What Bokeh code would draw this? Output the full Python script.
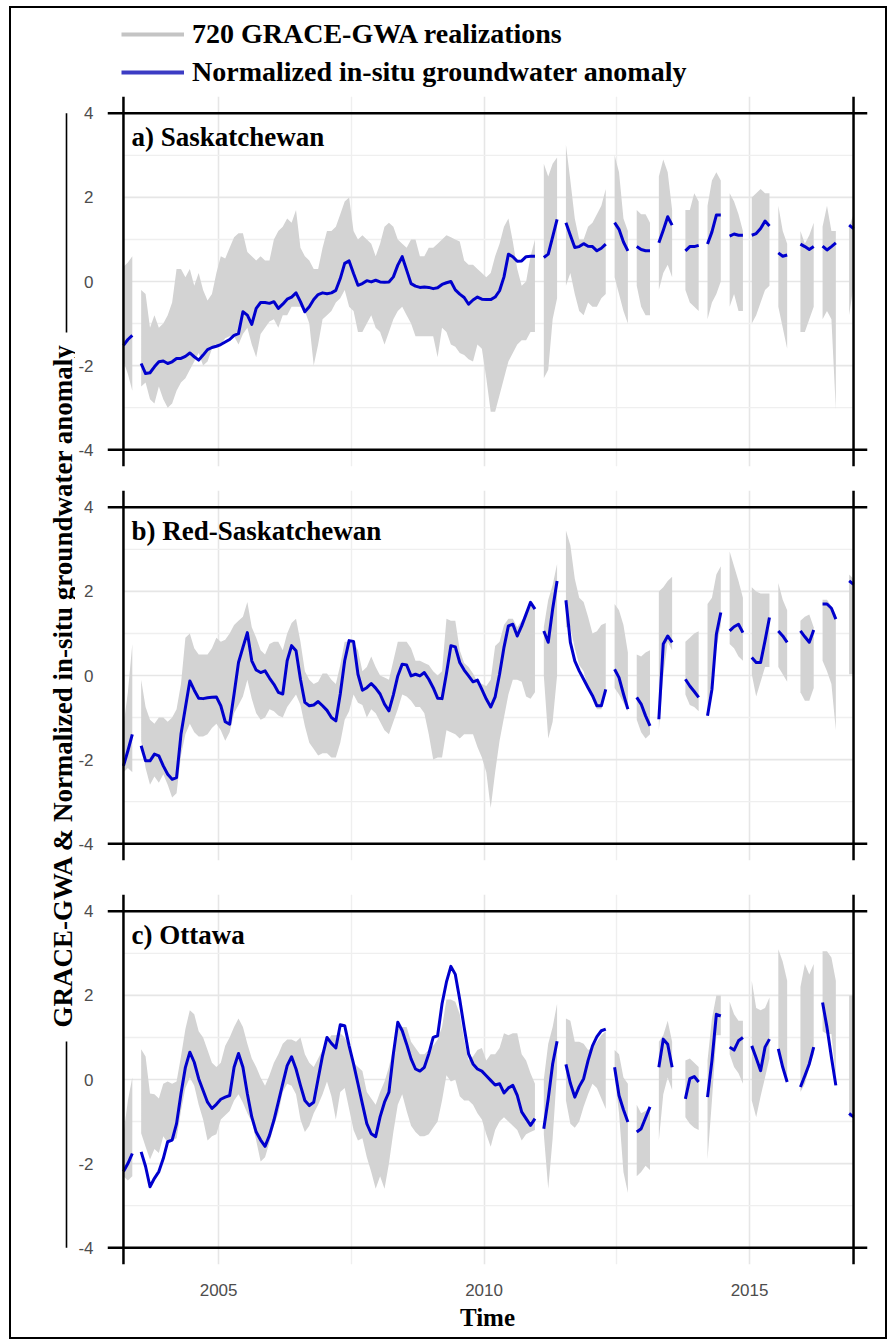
import math

import numpy as np
from bokeh.core.properties import value
from bokeh.embed import file_html
from bokeh.layouts import column, row
from bokeh.models import FixedTicker, Grid, Label, Legend, LegendItem, Range1d, Span
from bokeh.plotting import figure
from bokeh.resources import INLINE

nan = float("nan")

# ---------------------------------------------------------------- data
# Monthly series, March 2003 .. December 2016 (166 months); nan = month without GRACE data.
# Rows: 2003 (Mar-Dec), then one row per calendar year 2004..2016.
FIRST_YEAR, FIRST_MONTH, N_MONTHS = 2003, 3, 166

sask_obs = [
    -1.52, -1.38, -1.28, nan, -1.95, -2.19, -2.17, -2.03, -1.91, -1.89,
    -1.95, -1.91, -1.83, -1.83, -1.78, -1.70, -1.79, -1.87, -1.75, -1.62, -1.57, -1.54,
    -1.50, -1.44, -1.38, -1.28, -1.24, -0.72, -0.80, -1.02, -0.64, -0.50, -0.50, -0.52,
    -0.48, -0.64, -0.54, -0.42, -0.37, -0.27, -0.48, -0.72, -0.60, -0.43, -0.31, -0.27,
    -0.29, -0.27, -0.21, 0.07, 0.43, 0.49, 0.19, -0.09, -0.05, 0.02, -0.01, 0.03,
    -0.01, -0.02, -0.01, 0.11, 0.39, 0.59, 0.27, -0.05, -0.11, -0.14, -0.13, -0.14,
    -0.17, -0.15, -0.07, -0.03, 0.00, -0.20, -0.30, -0.38, -0.54, -0.44, -0.37, -0.42,
    -0.43, -0.43, -0.37, -0.22, 0.11, 0.65, 0.59, 0.48, 0.49, 0.59, 0.60, 0.60,
    nan, 0.57, 0.65, 1.06, 1.48, nan, 1.40, 1.10, 0.81, 0.83, 0.90, 0.84,
    0.83, 0.73, 0.79, 0.89, nan, 1.40, 1.24, 0.94, 0.73, nan, 0.83, 0.76,
    0.73, 0.73, nan, 0.92, 1.22, 1.54, 1.34, nan, nan, 0.73, 0.83, 0.83,
    0.86, nan, 0.89, 1.18, 1.58, 1.58, nan, 1.08, 1.13, 1.10, 1.10, nan,
    1.10, 1.14, 1.26, 1.44, 1.32, nan, 0.68, 0.60, 0.63, nan, nan, 0.89,
    0.83, 0.76, 0.83, nan, 0.84, 0.75, 0.83, 0.92, nan, nan, 1.34, 1.26,
]
sask_hi = [
    0.35, 0.45, 0.60, nan, -0.20, -0.30, -1.10, -0.80, -1.10, -1.00,
    -0.80, -0.50, 0.30, 0.30, 0.10, 0.30, -0.10, 0.20, -0.20, -0.45, -0.30, 0.20,
    0.60, 0.55, 0.80, 1.05, 1.15, 1.15, 0.70, 0.60, 0.50, 0.60, 0.50, 0.50,
    1.00, 1.20, 1.30, 1.50, 1.40, 1.70, 0.80, 0.60, 0.50, 0.30, 0.30, 0.80,
    1.20, 1.20, 1.30, 1.60, 1.90, 2.00, 1.20, 1.00, 1.10, 1.00, 0.90, 0.60,
    0.90, 1.30, 1.40, 1.30, 1.00, 0.90, 0.80, 1.00, 1.00, 0.60, 0.60, 0.80,
    0.80, 0.90, 1.00, 1.10, 1.05, 1.00, 0.95, 0.50, 0.40, 0.40, 0.30, 0.20,
    0.10, 0.20, 0.60, 0.90, 1.30, 1.50, 0.95, 0.30, -0.10, 0.00, 0.60, 1.00,
    nan, 2.80, 2.50, 2.80, 2.95, nan, 3.25, 2.40, 1.50, 1.00, 1.00, 1.30,
    1.40, 1.60, 1.80, 2.20, nan, 3.00, 2.60, 1.50, 1.20, nan, 1.70, 1.60,
    1.60, 1.40, nan, 2.50, 2.90, 2.60, 1.70, nan, nan, 1.70, 1.70, 2.10,
    1.90, nan, 1.80, 2.40, 2.60, 2.40, nan, 2.10, 1.90, 1.60, 1.20, nan,
    2.00, 2.10, 2.20, 2.10, 2.10, nan, 1.80, 1.20, 0.90, nan, nan, 1.20,
    0.90, 1.10, 1.40, nan, 1.30, 1.80, 1.20, 1.20, nan, nan, 1.30, 1.60,
]
sask_lo = [
    -1.90, -2.20, -2.60, nan, -2.50, -2.40, -2.80, -2.90, -2.50, -2.80,
    -3.00, -2.90, -2.60, -2.40, -2.30, -2.10, -1.90, -1.70, -2.00, -1.90, -1.60, -1.50,
    -1.50, -1.35, -1.30, -1.30, -1.50, -1.25, -1.10, -1.50, -1.80, -1.25, -1.10, -0.95,
    -0.90, -1.10, -0.80, -0.80, -0.60, -0.60, -0.60, -0.70, -1.00, -2.00, -1.50, -0.90,
    -0.80, -0.70, -0.50, -0.40, -0.20, -0.60, -0.70, -1.20, -1.20, -1.00, -0.80, -1.10,
    -1.20, -1.50, -1.20, -0.90, -0.70, -0.60, -0.80, -1.00, -1.30, -1.30, -1.30, -1.30,
    -1.30, -1.80, -1.10, -1.20, -1.50, -1.55, -1.70, -1.75, -1.85, -1.90, -1.50, -1.60,
    -2.30, -3.10, -3.10, -2.70, -2.30, -1.90, -1.70, -1.50, -1.40, -1.40, -1.20, -1.20,
    nan, -2.30, -2.10, -0.90, -0.40, nan, -0.10, 0.20, -0.30, -0.70, -0.80, -0.50,
    -0.60, -0.60, -0.40, -0.30, nan, 0.10, -0.30, -0.70, -1.00, nan, -0.10, -0.60,
    -0.80, -0.80, nan, -0.20, 0.20, 0.40, 0.10, nan, nan, -0.20, -0.50, -0.60,
    -0.70, nan, -0.90, -0.50, -0.30, 0.00, nan, -0.60, -0.30, -0.70, -0.70, nan,
    -1.00, -0.80, -0.50, -0.20, -0.10, nan, -0.60, -1.10, -1.60, nan, nan, -1.20,
    -1.20, -0.90, -0.60, nan, -0.90, -0.70, -0.90, -3.05, nan, nan, -0.80, -0.10,
]

red_obs = [
    -2.15, -1.79, -1.40, nan, -1.67, -2.03, -2.03, -1.87, -1.91, -2.15,
    -2.35, -2.47, -2.43, -1.40, -0.76, -0.13, -0.35, -0.54, -0.55, -0.53, -0.52, -0.51,
    -0.72, -1.10, -1.16, -0.44, 0.31, 0.67, 1.02, 0.35, 0.13, 0.07, 0.11, -0.06,
    -0.21, -0.40, -0.44, 0.35, 0.71, 0.59, -0.09, -0.64, -0.72, -0.70, -0.62, -0.72,
    -0.83, -1.00, -1.08, -0.44, 0.35, 0.83, 0.81, 0.03, -0.35, -0.29, -0.19, -0.30,
    -0.44, -0.68, -0.84, -0.46, -0.01, 0.27, 0.25, -0.01, 0.03, -0.01, 0.07, -0.09,
    -0.29, -0.54, -0.55, 0.05, 0.71, 0.68, 0.31, 0.13, -0.01, -0.15, -0.11, -0.33,
    -0.56, -0.75, -0.51, 0.03, 0.67, 1.18, 1.22, 0.94, 1.18, 1.46, 1.74, 1.58,
    nan, 1.06, 0.79, 1.58, 2.25, nan, 1.79, 0.79, 0.35, 0.11, -0.09, -0.29,
    -0.48, -0.72, -0.72, -0.33, nan, 0.15, -0.05, -0.44, -0.80, nan, -0.52, -0.68,
    -0.96, -1.20, nan, -1.04, 0.75, 0.94, 0.79, nan, nan, -0.09, -0.25, -0.38,
    -0.52, nan, -0.96, -0.33, 0.98, 1.50, nan, 1.06, 1.16, 1.22, 1.02, nan,
    0.43, 0.31, 0.31, 0.83, 1.38, nan, 1.06, 0.94, 0.79, nan, nan, 1.06,
    0.92, 0.79, 1.08, nan, 1.70, 1.70, 1.60, 1.34, nan, nan, 2.25, 2.17,
]
red_hi = [
    -1.20, -0.40, 0.75, nan, -0.10, -0.75, -1.05, -1.15, -1.00, -1.00,
    -1.10, -1.00, -0.80, -0.20, 0.90, 1.00, 0.65, 0.50, 0.50, 0.50, 0.65, 0.90,
    0.80, 0.85, 1.00, 1.20, 1.30, 1.40, 1.75, 1.15, 0.90, 0.60, 0.50, 0.75,
    0.80, 0.80, 0.60, 1.00, 1.25, 1.35, 0.80, 0.10, -0.10, -0.20, -0.15, 0.05,
    0.05, -0.10, -0.20, 0.25, 0.80, 0.80, 0.80, 0.60, 0.10, 0.20, 0.45, 0.20,
    0.00, -0.05, -0.10, 0.35, 0.80, 0.80, 0.80, 0.65, 0.35, 0.35, 0.30, 0.25,
    0.10, 0.00, 0.10, 1.35, 1.30, 1.30, 0.60, 0.30, 0.20, 0.05, -0.15, -0.20,
    -0.25, -0.10, 0.70, 0.80, 1.20, 1.35, 1.35, 1.15, 1.30, 1.45, 1.70, 1.55,
    nan, 1.15, 1.80, 2.15, 2.65, nan, 3.45, 3.10, 2.30, 1.85, 1.75, 1.40,
    1.00, 1.05, 1.20, 1.25, nan, 1.70, 1.55, 1.20, 0.55, nan, 0.50, 0.45,
    0.55, 0.60, nan, 2.00, 2.10, 2.25, 2.35, nan, nan, 0.80, 0.90, 1.00,
    1.05, nan, 1.70, 1.85, 2.40, 2.60, nan, 2.95, 2.60, 2.25, 1.85, nan,
    2.10, 2.00, 1.95, 1.95, 1.95, nan, 2.20, 1.80, 1.55, nan, nan, 1.30,
    1.40, 1.45, 1.15, nan, 1.80, 1.80, 1.65, 1.45, nan, nan, 2.40, 2.30,
]
red_lo = [
    -2.30, -2.20, -2.30, nan, -1.55, -2.20, -2.60, -2.40, -2.55, -2.35,
    -2.60, -2.90, -2.80, -1.90, -1.40, -1.15, -1.35, -1.45, -1.45, -1.40, -1.25, -1.15,
    -1.30, -1.55, -1.35, -0.90, -0.70, -0.50, -0.10, -0.55, -0.90, -1.05, -1.00, -0.80,
    -0.85, -0.95, -1.00, -0.75, -0.60, -0.45, -0.70, -1.20, -1.60, -1.75, -1.90, -1.85,
    -1.85, -1.95, -1.95, -1.60, -1.05, -0.85, -0.45, -0.65, -0.70, -1.00, -0.80, -0.90,
    -1.10, -1.30, -1.40, -1.10, -0.80, -0.45, -0.50, -0.60, -0.75, -0.75, -0.90, -1.40,
    -2.00, -1.95, -1.95, -1.30, -1.35, -1.40, -1.50, -1.40, -1.40, -1.40, -1.70, -1.95,
    -2.30, -3.15, -2.30, -1.55, -1.00, -0.45, -0.10, -0.10, -0.15, -0.50, -0.55, -0.40,
    nan, 0.00, -1.50, -1.10, 0.00, nan, 1.15, 1.15, 0.65, 0.25, 0.10, -0.30,
    -0.45, -0.80, -0.80, -0.40, nan, -0.30, -0.45, -0.65, -0.85, nan, -1.05, -1.35,
    -1.50, -1.40, nan, -1.30, 0.00, 0.80, 0.60, nan, nan, -0.45, -0.70, -0.75,
    -0.85, nan, -1.00, -0.10, 0.65, 1.20, nan, 0.75, 0.65, 0.45, 0.35, nan,
    0.03, -0.50, -0.15, 0.20, 0.20, nan, 0.20, 0.03, -0.15, nan, nan, -0.40,
    -0.60, -0.60, -0.30, nan, 0.35, 0.10, -0.20, -1.30, nan, nan, 0.03, 0.03,
]

ott_obs = [
    -2.19, -2.00, -1.76, nan, -1.72, -2.07, -2.55, -2.35, -2.19, -1.88,
    -1.48, -1.44, -1.05, -0.34, 0.29, 0.65, 0.41, 0.02, -0.26, -0.54, -0.69, -0.59,
    -0.47, -0.42, -0.38, 0.29, 0.62, 0.29, -0.34, -0.89, -1.25, -1.44, -1.59, -1.33,
    -0.97, -0.54, -0.10, 0.33, 0.54, 0.25, -0.14, -0.50, -0.62, -0.54, 0.02, 0.57,
    1.00, 0.86, 0.75, 1.30, 1.28, 0.80, 0.37, -0.10, -0.58, -1.05, -1.29, -1.36,
    -0.89, -0.54, -0.30, 0.61, 1.36, 1.16, 0.84, 0.49, 0.25, 0.20, 0.29, 0.61,
    1.00, 1.04, 1.80, 2.32, 2.69, 2.50, 1.90, 1.24, 0.61, 0.37, 0.25, 0.20,
    0.09, -0.02, -0.13, -0.10, -0.32, -0.20, -0.14, -0.38, -0.77, -0.93, -1.09, -0.93,
    nan, -1.17, -0.46, 0.37, 0.91, nan, 0.36, -0.09, -0.42, -0.17, 0.02, 0.45,
    0.80, 1.02, 1.16, 1.20, nan, 0.29, -0.38, -0.72, -1.01, nan, -1.25, -1.17,
    -0.91, -0.65, nan, 0.29, 0.96, 0.84, 0.29, nan, nan, -0.46, 0.02, 0.07,
    -0.06, nan, -0.42, 0.45, 1.55, 1.51, nan, 0.77, 0.70, 0.92, 1.00, nan,
    0.80, 0.51, 0.21, 0.77, 0.96, nan, 0.73, 0.29, -0.06, nan, nan, -0.18,
    0.09, 0.37, 0.77, nan, 1.83, 1.24, 0.53, -0.14, nan, nan, -0.81, -0.89,
]
ott_hi = [
    -1.30, -0.50, 0.05, nan, 0.72, 0.55, -0.33, -0.35, -0.45, -0.10,
    -0.05, -0.10, -0.05, 0.55, 1.20, 1.65, 1.55, 1.15, 1.00, 0.70, 0.40, 0.30,
    0.40, 0.80, 1.00, 1.25, 1.45, 1.25, 0.85, 0.50, 0.30, 0.05, -0.15, 0.10,
    0.40, 0.60, 0.85, 0.95, 0.95, 0.90, 1.00, 0.60, 0.40, 0.30, 0.50, 0.70,
    0.90, 1.05, 1.05, 1.10, 1.00, 0.80, 0.40, 0.30, 0.20, -0.30, -0.45, -0.60,
    -0.30, -0.05, 0.30, 0.75, 1.20, 1.25, 1.25, 0.90, 0.75, 0.60, 0.60, 0.70,
    0.80, 0.95, 1.25, 1.90, 1.90, 1.85, 1.55, 0.95, 0.45, 0.55, 0.70, 0.75,
    0.45, 0.60, 0.60, 0.75, 1.10, 1.05, 1.10, 1.10, 0.60, 0.45, 0.15, -0.10,
    nan, 0.00, 0.85, 1.25, 1.80, nan, 1.45, 1.40, 0.90, 0.90, 0.85, 0.70,
    0.75, 0.90, 1.05, 1.15, nan, 0.70, 0.60, 0.05, -0.10, nan, -0.60, -0.80,
    -0.75, -0.65, nan, 0.90, 1.05, 1.40, 0.90, nan, nan, 0.45, 0.50, 0.40,
    0.30, nan, 0.45, 1.45, 2.00, 2.00, nan, 1.85, 1.55, 1.40, 1.40, nan,
    2.35, 1.70, 1.65, 1.70, 1.95, nan, 3.10, 2.80, 2.35, nan, nan, 2.20,
    2.75, 2.50, 2.75, nan, 3.05, 3.05, 2.90, 2.35, nan, nan, 2.00, 2.00,
]
ott_lo = [
    -2.30, -2.40, -2.30, nan, -1.28, -1.60, -1.90, -1.65, -1.75, -1.35,
    -1.50, -1.45, -1.40, -0.75, -0.20, 0.05, -0.15, -0.60, -0.95, -1.45, -1.35, -1.30,
    -0.95, -0.85, -0.75, -0.50, -0.35, -0.55, -0.80, -1.00, -1.45, -1.95, -1.85, -1.50,
    -1.10, -0.80, -0.30, -0.10, -0.15, -0.35, -0.95, -1.25, -1.10, -0.80, -0.60, -0.35,
    -0.05, -0.40, -0.95, -0.30, -0.20, -0.70, -1.20, -1.45, -1.40, -1.85, -2.20, -2.60,
    -2.30, -2.60, -2.00, -1.25, -0.60, -0.35, -0.75, -1.10, -1.25, -1.35, -1.35, -1.30,
    -1.15, -1.00, -0.50, 0.10, -0.05, 0.00, -0.40, -0.50, -0.50, -0.60, -0.80, -0.95,
    -1.30, -1.60, -1.20, -1.00, -0.90, -1.00, -1.10, -1.20, -1.45, -1.30, -1.25, -1.20,
    nan, -1.30, -2.60, -1.40, 0.20, nan, -0.50, -1.05, -1.15, -1.00, -0.65, -0.35,
    -0.10, -0.20, -0.45, -0.70, nan, 0.10, -0.80, -2.20, -2.70, nan, -2.30, -2.20,
    -2.05, -2.15, nan, -1.45, -0.35, 0.05, -0.25, nan, nan, -0.90, -1.05, -1.15,
    -1.20, nan, -1.90, -0.50, 1.05, 1.05, nan, 0.60, 0.30, 0.15, -0.10, nan,
    -0.50, -0.90, -0.40, 0.05, 0.50, nan, 0.75, 0.35, -0.02, nan, nan, -0.30,
    -0.10, 0.30, 0.60, nan, 1.15, 1.08, 1.08, 0.05, nan, nan, -0.90, -0.90,
]

panels = [
    ("a) Saskatchewan", sask_obs, sask_lo, sask_hi),
    ("b) Red-Saskatchewan", red_obs, red_lo, red_hi),
    ("c) Ottawa", ott_obs, ott_lo, ott_hi),
]
for _, *series in panels:
    for s in series:
        assert len(s) == N_MONTHS

y_ticks = [-4, -2, 0, 2, 4]
y_grid_major = [-2, 0, 2]
y_grid_minor = [-3, -1, 1, 3]
x_ticks = [2005, 2010, 2015]
x_grid_minor = [2007.5, 2012.5]

legend_labels = ["720 GRACE-GWA realizations", "Normalized in-situ groundwater anomaly"]
y_title = "GRACE-GWA & Normalized in-situ groundwater anomaly"
x_title = "Time"

# ---------------------------------------------------------------- layout / style
# mid-month decimal time of every month in the record
t = np.array([FIRST_YEAR + (FIRST_MONTH - 1 + k + 0.5) / 12.0 for k in range(N_MONTHS)])
T0, T1 = float(t[0]), float(t[-1])

SERIF = "Liberation Serif"
SANS = "Liberation Sans"
BAND = "#D3D3D3"
BLUE = "#0000CD"
GRID_MAJOR = "#E6E6E6"
GRID_MINOR = "#EFEFEF"
TICK_GREY = "#4D4D4D"
TICK_SIZE = "17px"

LEFT_W = 64            # y-title strip
PANEL_W = 810          # panel canvas width
BORDER_L, BORDER_R = 30, 18
PAD_L, PAD_R = 16, 14  # frame padding outside the first/last month (px)
FRAME_H = 370
Y_LIM = 4.4
LEGEND_H = 88
GAPS = [(0, 12), (12, 12), (22, 73)]  # (top, bottom) border of each panel

frame_w = PANEL_W - BORDER_L - BORDER_R
px_per_year = (frame_w - PAD_L - PAD_R) / (T1 - T0)
x_start = T0 - PAD_L / px_per_year
x_end = T1 + PAD_R / px_per_year
px_per_unit = FRAME_H / (2 * Y_LIM)


def runs(values):
    """Index ranges of consecutive non-missing months."""
    ok = ~np.isnan(np.asarray(values, dtype=float))
    out, start = [], None
    for i, flag in enumerate(ok):
        if flag and start is None:
            start = i
        if not flag and start is not None:
            out.append((start, i))
            start = None
    if start is not None:
        out.append((start, len(ok)))
    return out


def make_panel(title, obs, lo, hi, top, bottom, with_x_axis):
    p = figure(
        width=PANEL_W, height=FRAME_H + top + bottom,
        x_range=Range1d(x_start, x_end), y_range=Range1d(-Y_LIM, Y_LIM),
        x_axis_location="below" if with_x_axis else None,
        output_backend="svg", toolbar_location=None, title=None,
        min_border_left=BORDER_L, min_border_right=BORDER_R,
        min_border_top=top, min_border_bottom=bottom,
    )
    p.outline_line_color = None
    p.xgrid.visible = False
    p.ygrid.visible = False

    # vertical grid spans the whole panel height
    p.add_layout(Grid(dimension=0, ticker=FixedTicker(ticks=x_ticks, minor_ticks=x_grid_minor),
                      grid_line_color=GRID_MAJOR, grid_line_width=1.6,
                      minor_grid_line_color=GRID_MINOR, minor_grid_line_width=1.4))
    # horizontal grid only between the first and last month
    p.segment(x0=[T0] * len(y_grid_major), x1=[T1] * len(y_grid_major), y0=y_grid_major, y1=y_grid_major,
              line_color=GRID_MAJOR, line_width=1.6)
    p.segment(x0=[T0] * len(y_grid_minor), x1=[T1] * len(y_grid_minor), y0=y_grid_minor, y1=y_grid_minor,
              line_color=GRID_MINOR, line_width=1.4)

    lo_a = np.asarray(lo, dtype=float)
    hi_a = np.asarray(hi, dtype=float)
    for a, b in runs(hi_a):
        p.varea(x=t[a:b], y1=lo_a[a:b], y2=hi_a[a:b], fill_color=BAND)
    p.line(x=t, y=np.asarray(obs, dtype=float), line_color=BLUE, line_width=3, line_join="round")

    for yv in (-4, 4):
        p.add_layout(Span(location=yv, dimension="width", line_color="black", line_width=2.5))
    for xv in (T0, T1):
        p.add_layout(Span(location=xv, dimension="height", line_color="black", line_width=2.5))

    p.add_layout(Label(x=T0, y=4, x_offset=8, y_offset=-9, text=title,
                       text_font=SERIF, text_font_style="bold", text_font_size="27px",
                       text_color="black", text_align="left", text_baseline="top"))

    ax = p.yaxis[0]
    ax.ticker = FixedTicker(ticks=y_ticks)
    ax.major_label_overrides = {v: str(v) for v in y_ticks}
    ax.axis_line_color = None
    ax.major_tick_line_color = None
    ax.minor_tick_line_color = None
    ax.major_label_standoff = 8
    ax.major_label_text_font = SANS
    ax.major_label_text_font_size = TICK_SIZE
    ax.major_label_text_color = TICK_GREY

    if with_x_axis:
        xa = p.xaxis[0]
        xa.ticker = FixedTicker(ticks=x_ticks)
        xa.axis_line_color = None
        xa.major_tick_line_color = None
        xa.minor_tick_line_color = None
        xa.major_label_standoff = 13
        xa.major_label_text_font = SANS
        xa.major_label_text_font_size = TICK_SIZE
        xa.major_label_text_color = TICK_GREY
        xa.axis_label = x_title
        xa.axis_label_standoff = 5
        xa.axis_label_text_font = SERIF
        xa.axis_label_text_font_style = "bold"
        xa.axis_label_text_font_size = "25px"
        xa.axis_label_text_color = "black"
    return p


panel_figs = []
for k, (title, obs, lo, hi) in enumerate(panels):
    top, bottom = GAPS[k]
    panel_figs.append(make_panel(title, obs, lo, hi, top, bottom, k == len(panels) - 1))

# legend strip (the keyed renderers hold no drawable point)
leg_fig = figure(width=PANEL_W, height=LEGEND_H, x_range=Range1d(0, 1), y_range=Range1d(0, 1),
                 x_axis_location=None, y_axis_location=None, min_border=0,
                 output_backend="svg", toolbar_location=None, title=None)
leg_fig.outline_line_color = None
leg_fig.xgrid.visible = False
leg_fig.ygrid.visible = False
r_band = leg_fig.line(x=[nan], y=[nan], line_color="#C4C4C4", line_width=4)
r_obs = leg_fig.line(x=[nan], y=[nan], line_color="#3C3CC4", line_width=4)
legend = Legend(
    items=[LegendItem(label=legend_labels[0], renderers=[r_band]),
           LegendItem(label=legend_labels[1], renderers=[r_obs])],
    location=(14, 7), orientation="vertical",
    glyph_width=63, glyph_height=34, label_height=34, label_standoff=8,
    spacing=4, padding=0, margin=0, border_line_color=None, background_fill_alpha=0,
    label_text_font=SERIF, label_text_font_style="bold", label_text_font_size="28px",
    label_text_color="black",
)
leg_fig.add_layout(legend)

# shared y-axis title strip with its bracket line
panel_heights = [FRAME_H + a + b for a, b in GAPS]
total_h = LEGEND_H + sum(panel_heights)
bracket_top = LEGEND_H + GAPS[0][0] + (Y_LIM - 4) * px_per_unit
bracket_bot = LEGEND_H + sum(panel_heights[:2]) + GAPS[2][0] + (Y_LIM + 4) * px_per_unit
title_cy = 677
title_half = 353

ytl = figure(width=LEFT_W, height=total_h, x_range=Range1d(0, LEFT_W), y_range=Range1d(total_h, 0),
             x_axis_location=None, y_axis_location=None, min_border=0,
             output_backend="svg", toolbar_location=None, title=None)
ytl.outline_line_color = None
ytl.xgrid.visible = False
ytl.ygrid.visible = False
ytl.segment(x0=[55, 55], x1=[55, 55],
            y0=[bracket_top, title_cy + title_half + 3], y1=[title_cy - title_half, bracket_bot],
            line_color="black", line_width=1.6)
ytl.text(x=[51], y=[title_cy], text=[y_title], angle=math.pi / 2,
         text_align="center", text_baseline="alphabetic",
         text_font=value(SERIF), text_font_style="bold", text_font_size="27px", text_color="black")

layout = row(ytl, column(leg_fig, *panel_figs),
             styles={"border": "2px solid black", "margin-left": "9px", "margin-top": "6px"})

with open("out.html", "w") as fh:
    fh.write(file_html(layout, INLINE))
